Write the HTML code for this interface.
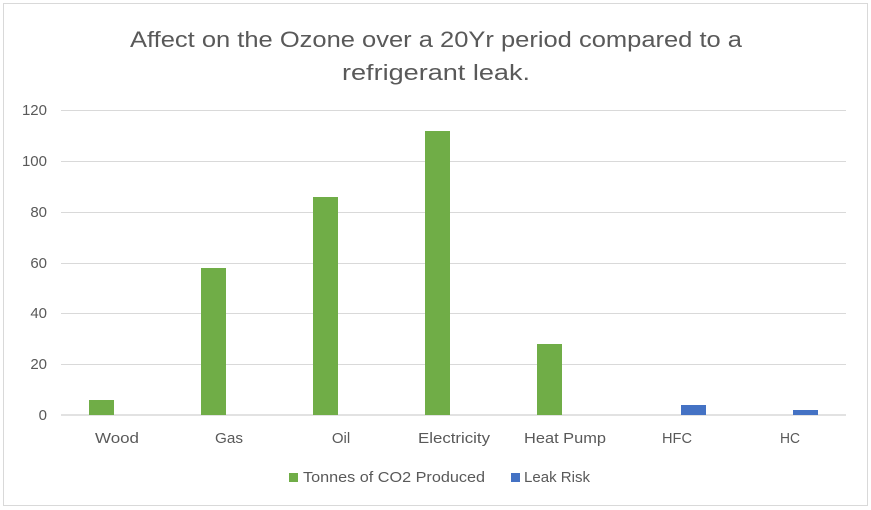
<!DOCTYPE html>
<html><head><meta charset="utf-8"><style>
body{margin:0;background:#fff}
svg{display:block;font-family:"Liberation Sans",sans-serif}
</style></head><body>
<svg width="871" height="510" viewBox="0 0 871 510">
<rect x="3.5" y="3.5" width="864" height="502" fill="#fff" stroke="#d9d9d9"/>
<g fill="#595959" font-size="22">
<text x="436" y="47" text-anchor="middle" textLength="612" lengthAdjust="spacingAndGlyphs">Affect on the Ozone over a 20Yr period compared to a</text>
<text x="436" y="80" text-anchor="middle" textLength="188" lengthAdjust="spacingAndGlyphs">refrigerant leak.</text>
</g>
<g stroke="#d9d9d9" stroke-width="1">
<line x1="61" x2="846" y1="110.5" y2="110.5"/>
<line x1="61" x2="846" y1="161.5" y2="161.5"/>
<line x1="61" x2="846" y1="212.5" y2="212.5"/>
<line x1="61" x2="846" y1="263.5" y2="263.5"/>
<line x1="61" x2="846" y1="313.5" y2="313.5"/>
<line x1="61" x2="846" y1="364.5" y2="364.5"/>
<line x1="61" x2="846" y1="415" y2="415" stroke-width="1.5"/>
</g>
<g fill="#595959" font-size="15" text-anchor="end">
<text x="47" y="115">120</text><text x="47" y="166">100</text><text x="47" y="217">80</text>
<text x="47" y="268">60</text><text x="47" y="318">40</text><text x="47" y="369">20</text><text x="47" y="420">0</text>
</g>
<g fill="#70ad47">
<rect x="89" y="400" width="25" height="15"/>
<rect x="201" y="268" width="25" height="147"/>
<rect x="313" y="197" width="25" height="218"/>
<rect x="425" y="131" width="25" height="284"/>
<rect x="537" y="344" width="25" height="71"/>
</g>
<g fill="#4472c4">
<rect x="681" y="405" width="25" height="10"/>
<rect x="793" y="410" width="25" height="5"/>
</g>
<g fill="#595959" font-size="15" text-anchor="middle">
<text x="117" y="443" textLength="44" lengthAdjust="spacingAndGlyphs">Wood</text>
<text x="229" y="443" textLength="28" lengthAdjust="spacingAndGlyphs">Gas</text>
<text x="341" y="443">Oil</text>
<text x="454" y="443" textLength="72" lengthAdjust="spacingAndGlyphs">Electricity</text>
<text x="565" y="443" textLength="82" lengthAdjust="spacingAndGlyphs">Heat Pump</text>
<text x="677" y="443" textLength="30" lengthAdjust="spacingAndGlyphs">HFC</text>
<text x="790" y="443" textLength="20" lengthAdjust="spacingAndGlyphs">HC</text>
</g>
<rect x="289" y="473" width="9" height="9" fill="#70ad47"/>
<text x="303" y="482" fill="#595959" font-size="15" textLength="182" lengthAdjust="spacingAndGlyphs">Tonnes of CO2 Produced</text>
<rect x="511" y="473" width="9" height="9" fill="#4472c4"/>
<text x="524" y="482" fill="#595959" font-size="15" textLength="66" lengthAdjust="spacingAndGlyphs">Leak Risk</text>
</svg>
</body></html>
